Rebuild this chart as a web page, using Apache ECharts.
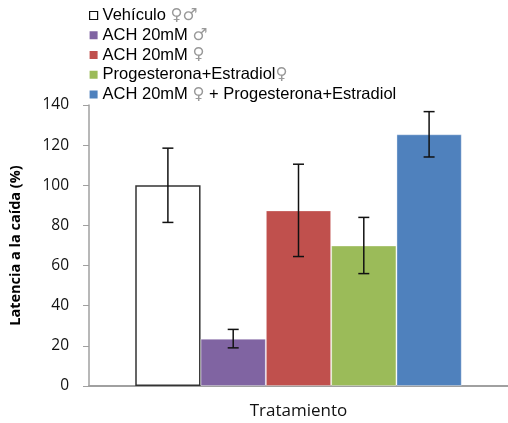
<!DOCTYPE html>
<html>
<head>
<meta charset="utf-8">
<script src="https://cdn.jsdelivr.net/npm/echarts@6/dist/echarts.min.js"></script>
<style>
html,body{margin:0;padding:0;background:#fff;}
#chart{width:508px;height:423px;}
</style>
</head>
<body>
<div id="chart"></div>
<script>
// Groups, mean latency (%) and error (±) per group
const groupNames = ['Vehículo', 'ACH 20mM', 'ACH 20mM', 'Progesterona+Estradiol', 'ACH 20mM'];
const groupSymbols = ['♀♂', '♂', '♀', '♀', '♀ + Progesterona+Estradiol'];
const groupColors = ['#ffffff', '#8064A2', '#C0504D', '#9BBB59', '#4F81BD'];
const meanValues = [100, 23.6, 87.5, 70, 125.4];
const errorValues = [18.5, 4.6, 23, 14, 11.3];
const categories = ['Tratamiento'];
const yTicks = { min: 0, max: 140, interval: 20 };

const BAR_W = 65.3;
const labels = groupNames.map((n, i) => i === 4 ? 'ACH 20mM ♀ + Progesterona+Estradiol' : n + ' ' + groupSymbols[i]);

const chart = echarts.init(document.getElementById('chart'));

const barSeries = meanValues.map((v, i) => ({
  name: labels[i],
  type: 'bar',
  barWidth: BAR_W,
  barGap: '0%',
  data: [v],
  itemStyle: i === 0
    ? { color: '#ffffff', borderColor: '#333333', borderWidth: 1.5 }
    : { color: groupColors[i], borderColor: 'rgba(255,255,255,0.35)', borderWidth: 1 },
  emphasis: { disabled: true },
  z: 2
}));

const errData = meanValues.map((v, i) => [i, v - errorValues[i], v + errorValues[i]]);

const errorSeries = {
  type: 'custom',
  name: 'err',
  data: errData,
  z: 5,
  renderItem: function (params, api) {
    const idx = api.value(0);
    const low = api.coord([0, api.value(1)]);
    const high = api.coord([0, api.value(2)]);
    const x = low[0] + (idx - (meanValues.length - 1) / 2) * BAR_W;
    const cap = 5.5;
    const st = { stroke: '#111', lineWidth: 1.5 };
    return {
      type: 'group',
      children: [
        { type: 'line', shape: { x1: x, y1: low[1], x2: x, y2: high[1] }, style: st },
        { type: 'line', shape: { x1: x - cap, y1: low[1], x2: x + cap, y2: low[1] }, style: st },
        { type: 'line', shape: { x1: x - cap, y1: high[1], x2: x + cap, y2: high[1] }, style: st }
      ]
    };
  },
  encode: { x: -1, y: [1, 2] }
};

chart.setOption({
  animation: false,
  textStyle: { fontFamily: 'Liberation Sans, Arial, sans-serif' },
  legend: {
    orient: 'vertical',
    left: 89,
    top: 7,
    padding: 0,
    itemWidth: 8,
    itemHeight: 8,
    itemGap: 2.75,
    icon: 'rect',
    data: labels.map((l, i) => ({
      name: l,
      itemStyle: i === 0 ? { color: '#fff', borderColor: '#111', borderWidth: 1.2 } : { color: groupColors[i], borderWidth: 0 }
    })),
    formatter: function (name) {
      const i = labels.indexOf(name);
      if (i === 4) return '{t|ACH 20mM }{s|♀}{t| + Progesterona+Estradiol}';
      if (i === 3) return '{t|' + groupNames[i] + '}{s|' + groupSymbols[i] + '}';
      return '{t|' + groupNames[i] + ' }{s|' + groupSymbols[i] + '}';
    },
    textStyle: {
      rich: {
        t: { fontSize: 16.5, color: '#000', fontFamily: 'Liberation Sans', lineHeight: 16 },
        s: { fontSize: 16.5, color: '#999', fontFamily: 'DejaVu Sans', lineHeight: 16 }
      }
    }
  },
  grid: { left: 87, right: -13, top: 105, bottom: 37 },
  xAxis: {
    type: 'category',
    data: categories,
    axisLine: { lineStyle: { color: '#a0a0a0', width: 2 } },
    axisTick: { show: false },
    axisLabel: { show: true, margin: 17, fontSize: 17, color: '#111', fontFamily: 'Open Sans' }
  },
  yAxis: {
    type: 'value',
    min: yTicks.min,
    max: yTicks.max,
    interval: yTicks.interval,
    name: 'Latencia a la caída (%)',
    nameLocation: 'middle',
    nameGap: 66,
    nameTextStyle: { fontSize: 14.5, fontWeight: 'bold', color: '#000', fontFamily: 'Open Sans' },
    axisLine: { show: true, lineStyle: { color: '#a0a0a0', width: 1.5 } },
    axisTick: { show: true, inside: false, length: 6, lineStyle: { color: '#a0a0a0' } },
    axisLabel: { fontSize: 15.5, color: '#111', margin: 20, fontFamily: 'Open Sans' },
    splitLine: { show: false }
  },
  series: barSeries.concat([errorSeries])
});
</script>
</body>
</html>
